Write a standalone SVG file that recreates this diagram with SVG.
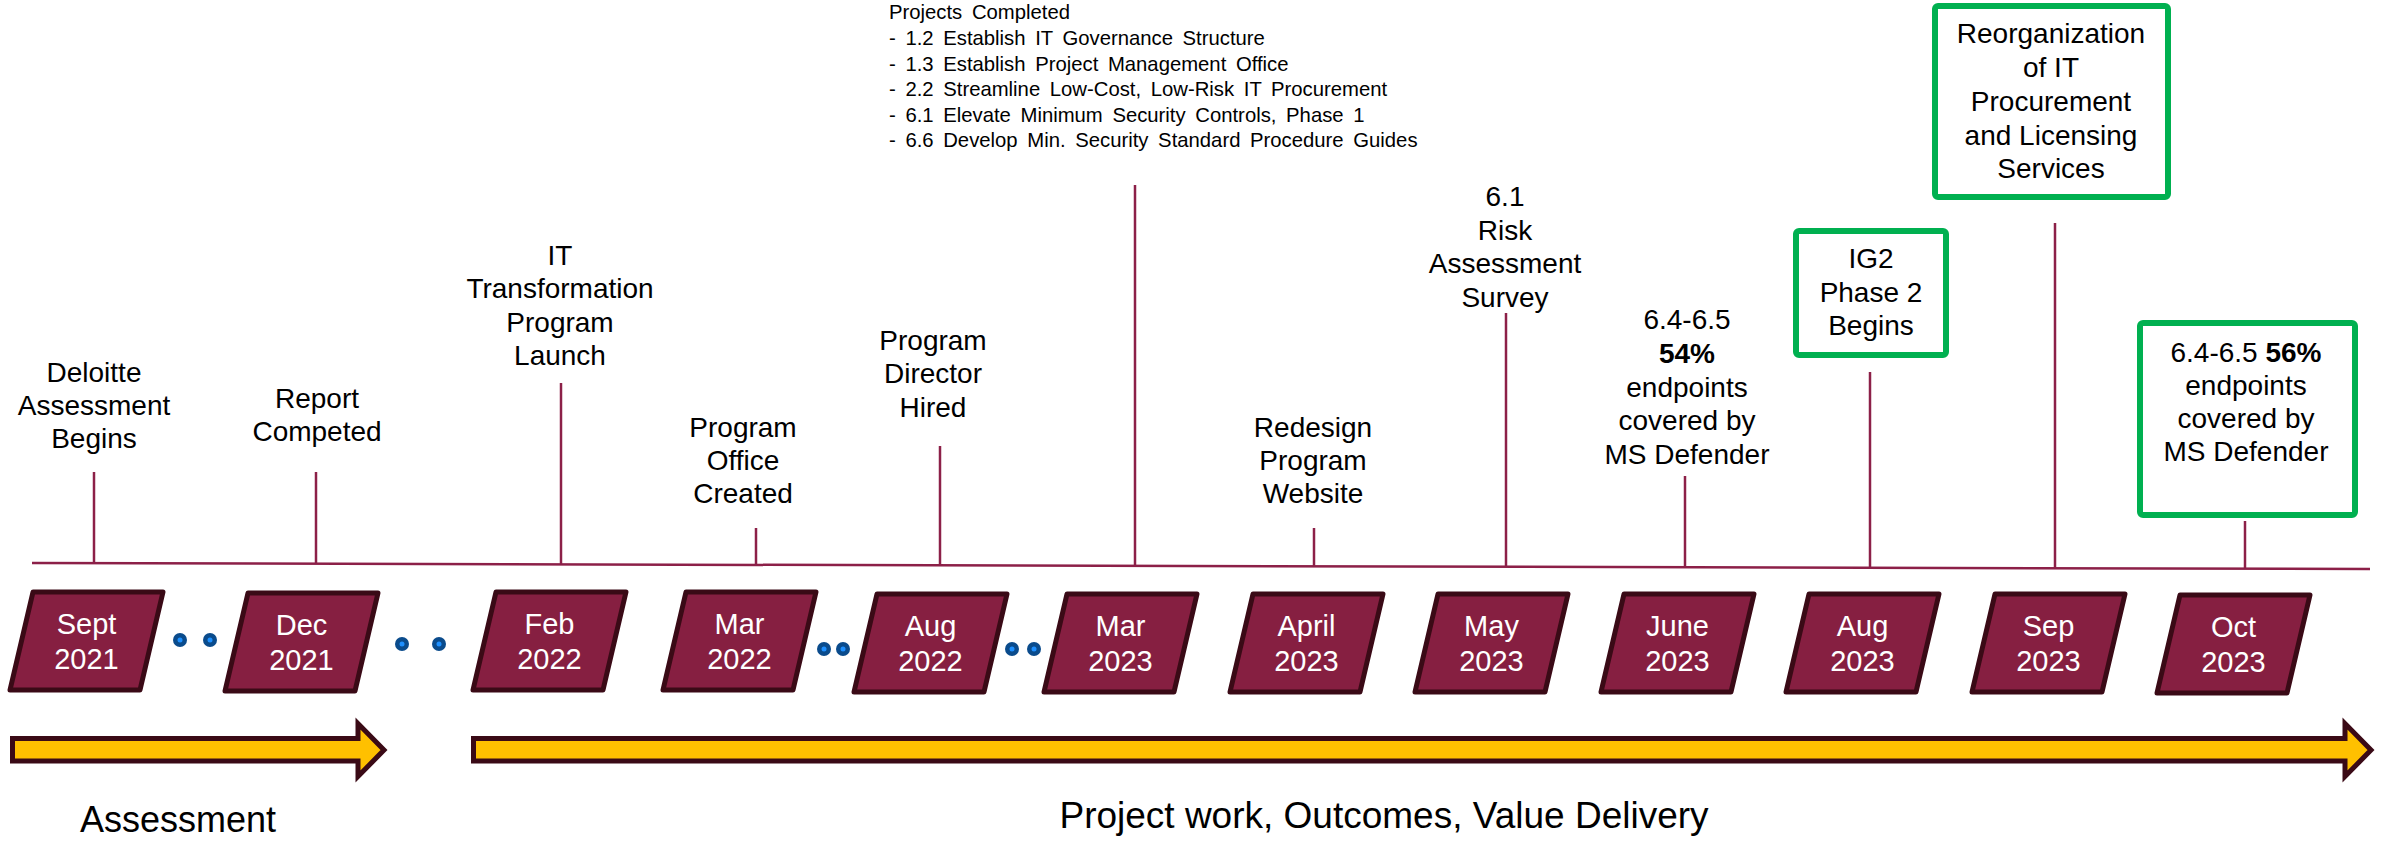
<svg xmlns="http://www.w3.org/2000/svg" width="2382" height="841" viewBox="0 0 2382 841">
<defs>
<style>
text{font-family:"Liberation Sans",Arial,sans-serif;fill:#000}
.lbl{font-size:28px;text-anchor:middle}
.proj{font-size:20.3px;word-spacing:4px}
.mo{font-size:29px;fill:#fff;text-anchor:middle}
.big{font-size:36px;text-anchor:middle}
.big2{font-size:37px;text-anchor:middle}
.tick{stroke:#8C2048;stroke-width:2.5;fill:none}
.pg{fill:#861F41;stroke:#3A0A16;stroke-width:5;stroke-linejoin:round}
.gbox{fill:#fff;stroke:#00B050;stroke-width:6}
.arr{fill:#FFC000;stroke:#3A0A16;stroke-width:5}
.dot{fill:#0A4B8C}
.din{fill:#1E90FF}
</style>
<g id="pgshape"><polygon class="pg" points="23,0 153,0 130,98 0,98"/></g>
<g id="dots"><circle class="dot" cx="0" cy="0" r="7"/><circle class="din" cx="0" cy="0" r="2.5"/></g>
</defs>

<g id="connectors">
<line class="tick" x1="32" y1="563" x2="2370" y2="569" stroke-width="3"/>
<line class="tick" x1="94" y1="472" x2="94" y2="563.2"/>
<line class="tick" x1="316" y1="472" x2="316" y2="563.7"/>
<line class="tick" x1="561" y1="383" x2="561" y2="564.4"/>
<line class="tick" x1="756" y1="528" x2="756" y2="564.9"/>
<line class="tick" x1="940" y1="446" x2="940" y2="565.3"/>
<line class="tick" x1="1135" y1="185" x2="1135" y2="565.8"/>
<line class="tick" x1="1314" y1="528" x2="1314" y2="566.3"/>
<line class="tick" x1="1506" y1="313" x2="1506" y2="566.8"/>
<line class="tick" x1="1685" y1="476" x2="1685" y2="567.2"/>
<line class="tick" x1="1870" y1="372" x2="1870" y2="567.7"/>
<line class="tick" x1="2055" y1="223" x2="2055" y2="568.2"/>
<line class="tick" x1="2245" y1="521" x2="2245" y2="568.7"/>
</g>

<g id="label-deloitte">
<text class="lbl" x="94" y="382">Deloitte</text>
<text class="lbl" x="94" y="415">Assessment</text>
<text class="lbl" x="94" y="448">Begins</text>
</g>
<g id="label-report">
<text class="lbl" x="317" y="408">Report</text>
<text class="lbl" x="317" y="441">Competed</text>
</g>
<g id="label-it">
<text class="lbl" x="560" y="265">IT</text>
<text class="lbl" x="560" y="298">Transformation</text>
<text class="lbl" x="560" y="332">Program</text>
<text class="lbl" x="560" y="365">Launch</text>
</g>
<g id="label-office">
<text class="lbl" x="743" y="437">Program</text>
<text class="lbl" x="743" y="470">Office</text>
<text class="lbl" x="743" y="503">Created</text>
</g>
<g id="label-director">
<text class="lbl" x="933" y="350">Program</text>
<text class="lbl" x="933" y="383">Director</text>
<text class="lbl" x="933" y="417">Hired</text>
</g>
<g id="label-projects">
<text class="proj" x="889" y="19">Projects Completed</text>
<text class="proj" x="889" y="45">- 1.2 Establish IT Governance Structure</text>
<text class="proj" x="889" y="70.5">- 1.3 Establish Project Management Office</text>
<text class="proj" x="889" y="96">- 2.2 Streamline Low-Cost, Low-Risk IT Procurement</text>
<text class="proj" x="889" y="121.5">- 6.1 Elevate Minimum Security Controls, Phase 1</text>
<text class="proj" x="889" y="147">- 6.6 Develop Min. Security Standard Procedure Guides</text>
</g>
<g id="label-redesign">
<text class="lbl" x="1313" y="437">Redesign</text>
<text class="lbl" x="1313" y="470">Program</text>
<text class="lbl" x="1313" y="503">Website</text>
</g>
<g id="label-risk">
<text class="lbl" x="1505" y="206">6.1</text>
<text class="lbl" x="1505" y="240">Risk</text>
<text class="lbl" x="1505" y="273">Assessment</text>
<text class="lbl" x="1505" y="307">Survey</text>
</g>
<g id="label-june">
<text class="lbl" x="1687" y="329">6.4-6.5</text>
<text class="lbl" x="1687" y="363" font-weight="bold">54%</text>
<text class="lbl" x="1687" y="397">endpoints</text>
<text class="lbl" x="1687" y="430">covered by</text>
<text class="lbl" x="1687" y="464">MS Defender</text>
</g>
<g id="box-ig2">
<rect class="gbox" x="1796" y="231" width="150" height="124" rx="3"/>
<text class="lbl" x="1871" y="268">IG2</text>
<text class="lbl" x="1871" y="302">Phase 2</text>
<text class="lbl" x="1871" y="335">Begins</text>
</g>
<g id="box-reorg">
<rect class="gbox" x="1935" y="6" width="233" height="191" rx="3"/>
<text class="lbl" x="2051" y="43">Reorganization</text>
<text class="lbl" x="2051" y="77">of IT</text>
<text class="lbl" x="2051" y="111">Procurement</text>
<text class="lbl" x="2051" y="145">and Licensing</text>
<text class="lbl" x="2051" y="178">Services</text>
</g>
<g id="box-oct">
<rect class="gbox" x="2140" y="323" width="215" height="192" rx="3"/>
<text class="lbl" x="2246" y="362">6.4-6.5 <tspan font-weight="bold">56%</tspan></text>
<text class="lbl" x="2246" y="395">endpoints</text>
<text class="lbl" x="2246" y="428">covered by</text>
<text class="lbl" x="2246" y="461">MS Defender</text>
</g>

<g id="month-sept2021"><use href="#pgshape" x="10" y="592"/><text class="mo" x="86.5" y="634">Sept</text><text class="mo" x="86.5" y="669">2021</text></g>
<g id="month-dec2021"><use href="#pgshape" x="225" y="593"/><text class="mo" x="301.5" y="635">Dec</text><text class="mo" x="301.5" y="670">2021</text></g>
<g id="month-feb2022"><use href="#pgshape" x="473" y="592"/><text class="mo" x="549.5" y="634">Feb</text><text class="mo" x="549.5" y="669">2022</text></g>
<g id="month-mar2022"><use href="#pgshape" x="663" y="592"/><text class="mo" x="739.5" y="634">Mar</text><text class="mo" x="739.5" y="669">2022</text></g>
<g id="month-aug2022"><use href="#pgshape" x="854" y="594"/><text class="mo" x="930.5" y="636">Aug</text><text class="mo" x="930.5" y="671">2022</text></g>
<g id="month-mar2023"><use href="#pgshape" x="1044" y="594"/><text class="mo" x="1120.5" y="636">Mar</text><text class="mo" x="1120.5" y="671">2023</text></g>
<g id="month-apr2023"><use href="#pgshape" x="1230" y="594"/><text class="mo" x="1306.5" y="636">April</text><text class="mo" x="1306.5" y="671">2023</text></g>
<g id="month-may2023"><use href="#pgshape" x="1415" y="594"/><text class="mo" x="1491.5" y="636">May</text><text class="mo" x="1491.5" y="671">2023</text></g>
<g id="month-jun2023"><use href="#pgshape" x="1601" y="594"/><text class="mo" x="1677.5" y="636">June</text><text class="mo" x="1677.5" y="671">2023</text></g>
<g id="month-aug2023"><use href="#pgshape" x="1786" y="594"/><text class="mo" x="1862.5" y="636">Aug</text><text class="mo" x="1862.5" y="671">2023</text></g>
<g id="month-sep2023"><use href="#pgshape" x="1972" y="594"/><text class="mo" x="2048.5" y="636">Sep</text><text class="mo" x="2048.5" y="671">2023</text></g>
<g id="month-oct2023"><use href="#pgshape" x="2157" y="595"/><text class="mo" x="2233.5" y="637">Oct</text><text class="mo" x="2233.5" y="672">2023</text></g>

<g id="ellipses">
<use href="#dots" x="180" y="640"/><use href="#dots" x="210" y="640"/>
<use href="#dots" x="402" y="644"/><use href="#dots" x="439" y="644"/>
<use href="#dots" x="824" y="649"/><use href="#dots" x="843" y="649"/>
<use href="#dots" x="1012" y="649"/><use href="#dots" x="1034" y="649"/>
</g>

<g id="arrow-assessment">
<polygon class="arr" points="12.5,738.5 358,738.5 358,723.5 384,750 358,776.5 358,761 12.5,761"/>
<text class="big" x="178" y="832">Assessment</text>
</g>
<g id="arrow-project">
<polygon class="arr" points="473.5,738.5 2345,738.5 2345,723.5 2371,750 2345,776.5 2345,761 473.5,761"/>
<text class="big2" x="1384" y="828">Project work, Outcomes, Value Delivery</text>
</g>
</svg>
